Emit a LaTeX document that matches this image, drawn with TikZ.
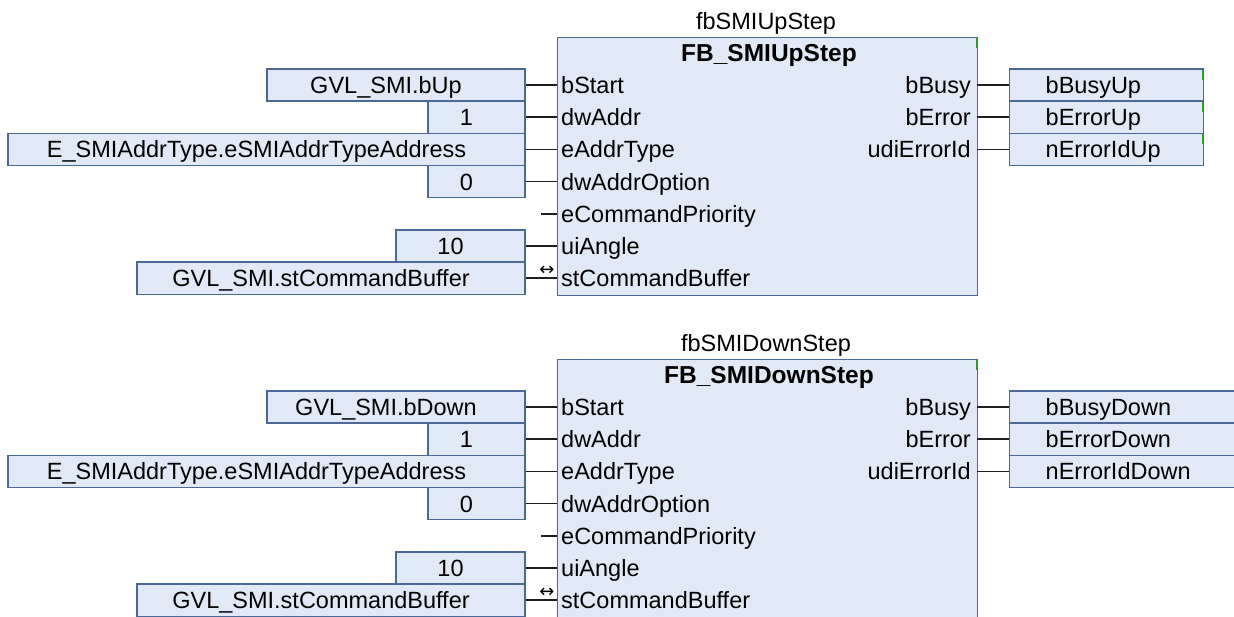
\documentclass[tikz,border=0pt]{standalone}
\usepackage{fontspec}
\setmainfont{Liberation Sans}
\newfontfamily\symfont{DejaVu Sans}
\definecolor{boxfill}{RGB}{226,233,246}
\definecolor{boxline}{RGB}{74,104,152}
\definecolor{wirecol}{RGB}{30,30,30}
\definecolor{tickcol}{RGB}{40,160,40}
\begin{document}
\begin{tikzpicture}[x=1pt,y=-1pt,
  font=\fontsize{23.5}{28}\selectfont,
  varbox/.style={draw=boxline, fill=boxfill, line width=1.4pt, minimum height=32.2pt,
    inner sep=0pt, text height=17pt, text depth=0pt, execute at end node={\hspace*{20pt}}},
  outbox/.style={draw=boxline, fill=boxfill, line width=1.4pt, minimum height=32.2pt,
    inner sep=0pt, text height=17pt, text depth=0pt, align=left, anchor=west},
  fbbox/.style={draw=boxline, fill=boxfill, line width=1.4pt, inner sep=0pt, anchor=north west},
  pinlabel/.style={inner sep=0pt, text height=17pt, text depth=0pt},
  wire/.style={draw=wirecol, line width=1.5pt},
  greentick/.style={draw=tickcol, line width=1.2pt}]
\useasboundingbox (0,0) rectangle (1234,616);
\clip (0,0) rectangle (1234,616);
\foreach \dy/\p/\inst/\type/\start/\oa/\ob/\oc/\outw in {
  0/u/fbSMIUpStep/FB\_SMIUpStep/GVL\_SMI.bUp/bBusyUp/bErrorUp/nErrorIdUp/194,
  322/d/fbSMIDownStep/FB\_SMIDownStep/GVL\_SMI.bDown/bBusyDown/bErrorDown/nErrorIdDown/270}{
  % function block
  \node[fbbox, minimum width=420pt, minimum height=258pt] (\p fb) at (557,37+\dy) {};
  \draw[greentick] (977,37.5+\dy) -- (977,48+\dy);
  \node[pinlabel] (\p inst) at (766,21+\dy) {\inst};
  \node[pinlabel, font=\fontsize{24.5}{28}\selectfont\bfseries] (\p type) at (769,53+\dy) {\type};
  % input pins
  \foreach \lab [count=\i from 0] in {bStart,dwAddr,eAddrType,dwAddrOption,eCommandPriority,uiAngle,stCommandBuffer}{
    \node[pinlabel, anchor=west] (\p pin\i) at (561,85+\dy+32.2*\i) {\lab};
    \coordinate (\p in\i) at (557,85+\dy+32.2*\i);
  }
  % input variable boxes
  \foreach \i/\l/\txt in {0/267/\start, 1/428/1, 2/8/E\_SMIAddrType.eSMIAddrTypeAddress,
      3/428/0, 5/396/10, 6/137/GVL\_SMI.stCommandBuffer}{
    \node[varbox, minimum width=525pt-\l pt] (\p v\i) at ({(\l+525)/2},85+\dy+32.2*\i) {\txt};
    \draw[wire] (\p v\i.east) -- (\p in\i);
  }
  \coordinate (\p stub) at (541,85+\dy+32.2*4);
  \draw[wire] (\p stub) -- (\p in4);
  \node[inner sep=0pt] (\p inout) at (547,271+\dy) {\symfont\fontsize{18}{18}\selectfont ↔};
  % output pins
  \foreach \lab/\txt [count=\i from 0] in {bBusy/\oa, bError/\ob, udiErrorId/\oc}{
    \node[pinlabel, anchor=east] (\p opin\i) at (971,85+\dy+32.2*\i) {\lab};
    \coordinate (\p out\i) at (977,85+\dy+32.2*\i);
    \node[outbox, text width=\outw pt] (\p o\i) at (1009,85+\dy+32.2*\i) {\hspace*{36pt}\txt};
    \draw[wire] (\p out\i) -- (\p o\i.west);
    \draw[greentick] (1009+\outw,69.5+\dy+32.2*\i) -- (1009+\outw,80+\dy+32.2*\i);
  }
}
\end{tikzpicture}
\end{document}
